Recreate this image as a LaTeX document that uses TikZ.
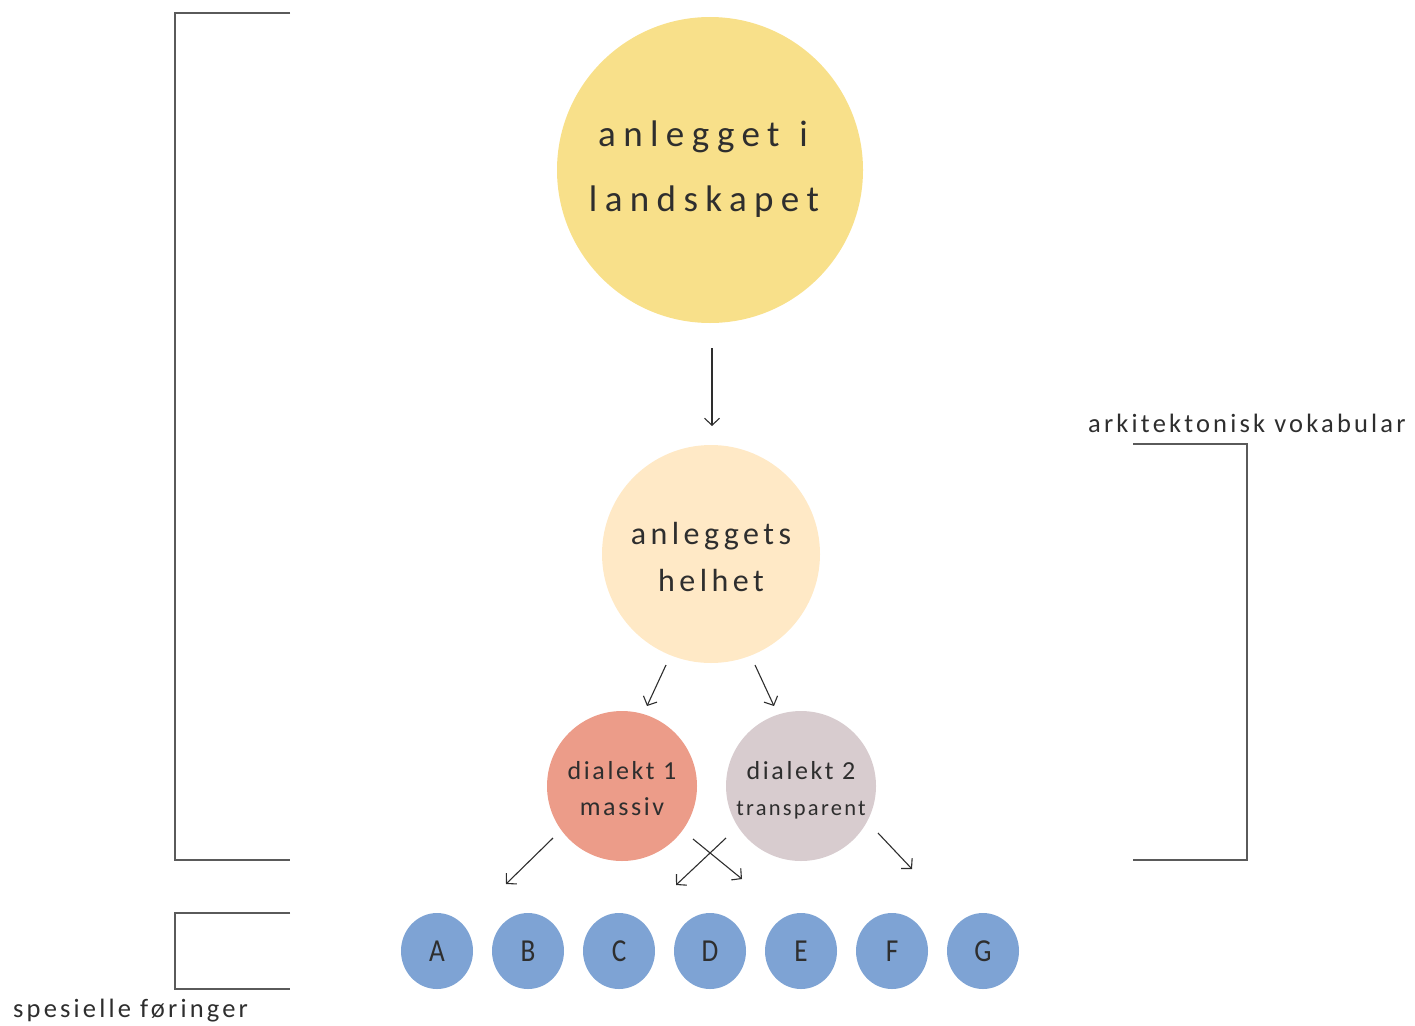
\documentclass[tikz,border=0pt]{standalone}
\usepackage{fontspec}
\setmainfont{Carlito}
\usetikzlibrary{arrows.meta,shapes.geometric}
\definecolor{txt}{HTML}{2E2E2E}
\definecolor{rule}{HTML}{5A5A5A}
\definecolor{sun}{HTML}{F8E08A}
\definecolor{cream}{HTML}{FFE9C6}
\definecolor{salmon}{HTML}{EC9C89}
\definecolor{mauve}{HTML}{D8CCCF}
\definecolor{blue}{HTML}{7EA3D4}
\tikzset{
  ball/.style={circle, inner sep=0pt, text=txt, align=center},
  letterball/.style={ellipse, fill=blue, minimum width=72pt, minimum height=76pt,
    inner sep=0pt, text=txt, font=\fontsize{32}{36}\selectfont\addfontfeatures{FakeStretch=0.85}},
  arr/.style={draw=txt, line width=1.1pt, -{Straight Barb[length=7pt,width=15pt]}},
  bracket/.style={draw=rule, line width=1.1pt},
  side/.style={text=txt, inner sep=0pt, anchor=base west,
    font=\fontsize{26.5}{30}\selectfont\addfontfeatures{LetterSpace=12}}
}
\begin{document}
\begin{tikzpicture}[x=1pt, y=-1pt]
\useasboundingbox (0,0) rectangle (1415,1025);

% hierarchy of circles (text height/depth place the last baseline)
\node[ball, fill=sun, minimum size=306pt, text height=91pt, text depth=9pt,
  font=\fontsize{37}{65}\selectfont\addfontfeatures{LetterSpace=20}]
  (top) at (710,170) {anlegget\hspace{4pt} i\kern14pt\\landskapet\kern12pt};
\node[ball, fill=cream, minimum size=218pt, text height=74pt, text depth=0pt,
  font=\fontsize{32}{47}\selectfont\addfontfeatures{LetterSpace=14}]
  (mid) at (711,554) {anleggets\\helhet};
\node[ball, fill=salmon, minimum size=150pt, text height=58pt, text depth=0pt,
  font=\fontsize{26}{36}\selectfont\addfontfeatures{LetterSpace=10}]
  (d1) at (622,786) {dialekt 1\\massiv};
\node[ball, fill=mauve, minimum size=150pt, text height=58pt, text depth=0pt,
  font=\fontsize{26}{36}\selectfont\addfontfeatures{LetterSpace=10}]
  (d2) at (801,786) {dialekt 2\\{\fontsize{22.5}{26}\selectfont\addfontfeatures{LetterSpace=10}transparent}};

% row of lettered elements
\node[letterball] (A) at (437,951) {A};
\node[letterball] (B) at (528,951) {B};
\node[letterball] (C) at (619,951) {C};
\node[letterball] (D) at (710,951) {D};
\node[letterball] (E) at (801,951) {E};
\node[letterball] (F) at (892,951) {F};
\node[letterball] (G) at (983,951) {G};

% arrows between levels
\draw[arr] ([shift={(2,178)}]top.center) -- ([shift={(1,-128)}]mid.center);
\draw[arr] ([shift={(-45,111)}]mid.center) -- ([shift={(25,-80)}]d1.center);
\draw[arr] ([shift={(44,111)}]mid.center) -- ([shift={(-27,-80)}]d2.center);
\draw[arr] ([shift={(-69,52)}]d1.center) -- ([shift={(69,-67)}]A.center);
\draw[arr] ([shift={(-75,52)}]d2.center) -- ([shift={(57,-66)}]C.center);
\draw[arr] ([shift={(71,53)}]d1.center) -- ([shift={(-59,-72)}]E.center);
\draw[arr] ([shift={(77,47)}]d2.center) -- ([shift={(-71,-82)}]G.center);

% brackets
\draw[bracket] (290,13) -- (175,13) -- (175,860) -- (290,860);
\draw[bracket] (290,913) -- (175,913) -- (175,989) -- (290,989);
\draw[bracket] (1133,444) -- (1247,444) -- (1247,860) -- (1133,860);

% bracket labels
\node[side] (vok) at (1088,432) {arkitektonisk vokabular};
\node[side] (spes) at (13,1017) {spesielle føringer};
\end{tikzpicture}
\end{document}
